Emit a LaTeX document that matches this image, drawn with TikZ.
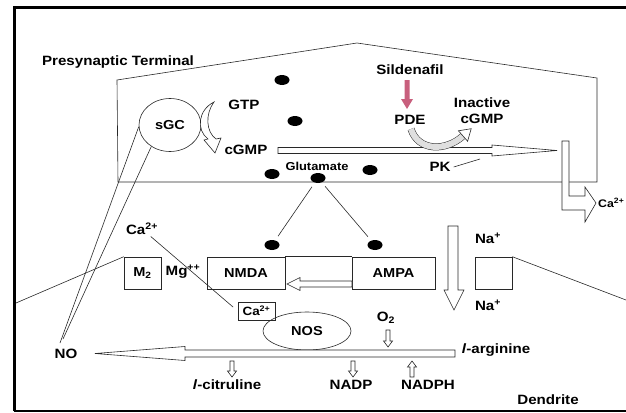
\documentclass[tikz,border=0pt]{standalone}
\usepackage{fontspec}
\setmainfont{Liberation Sans}[FakeStretch=1.12]
\usetikzlibrary{shapes.geometric}
\definecolor{pinkarrow}{RGB}{200,95,125}
\definecolor{ink}{RGB}{40,40,40}
\newcommand{\hollowdown}[3]{\draw[ink,line width=0.6pt,fill=white] (#1-2,#2) -- (#1+2,#2) -- (#1+2,#3-6) -- (#1+4.5,#3-6) -- (#1,#3) -- (#1-4.5,#3-6) -- (#1-2,#3-6) -- cycle;}
\newcommand{\hollowup}[3]{\draw[ink,line width=0.6pt,fill=white] (#1-2,#2) -- (#1+2,#2) -- (#1+2,#3+6) -- (#1+4.5,#3+6) -- (#1,#3) -- (#1-4.5,#3+6) -- (#1-2,#3+6) -- cycle;}
\begin{document}
\begin{tikzpicture}[x=1pt,y=-1pt,
  lbl/.style={font=\bfseries\fontsize{13.5}{15}\selectfont, inner sep=0pt, text=black},
  small/.style={font=\bfseries\fontsize{11.5}{13}\selectfont, inner sep=0pt, text=black},
  dot/.style={ellipse, fill=black, minimum width=15pt, minimum height=10pt, inner sep=0pt},
  boxx/.style={draw=ink, line width=0.6pt, minimum height=32pt, inner sep=0pt, font=\bfseries\fontsize{13}{15}\selectfont},
  thinl/.style={ink, line width=0.6pt}]
\useasboundingbox (0,0) rectangle (626,412);
% frame
\draw[line width=3pt] (14,411) -- (14,8) -- (626,8);
\draw[line width=2pt] (14,411) -- (626,411);
% presynaptic terminal
\draw[thinl] (117,80) -- (357,43) -- (597,78) -- (597,182) -- (118,182) -- cycle;
\node[lbl] (pre) at (118,62) {Presynaptic Terminal};
% sGC
\node[ellipse, draw=ink, line width=0.6pt, minimum width=62pt, minimum height=53pt, inner sep=0pt, font=\bfseries\fontsize{13}{15}\selectfont] (sgc) at (170,125) {sGC};
\draw[thinl, fill=white] (214,102) .. controls (198,110) and (196,130) .. (208,139) -- (204,140) -- (215,153) -- (221,138) -- (216,139) .. controls (206,132) and (205,114) .. (214,102) -- cycle;
\node[lbl] (gtp) at (244,105) {GTP};
\node[lbl] (cgmp) at (246,150) {cGMP};
% long cGMP arrow
\draw[thinl, fill=white] (278,147.5) -- (492,147.5) -- (492,145) -- (557,150.5) -- (492,156) -- (492,153.5) -- (278,153.5) -- cycle;
% Ca L-arrow
\draw[thinl, fill=white] (562,141) -- (569,141) -- (569,196) -- (585,196) -- (585,187) -- (596,203) -- (585,222) -- (585,210) -- (562,210) -- cycle;
\node[anchor=west, inner sep=0pt, font=\bfseries\fontsize{11}{13}\selectfont] (carr) at (598,203) {Ca\textsuperscript{2+}};
% sildenafil
\node[lbl] (sil) at (410,70) {Sildenafil};
\node[lbl] (pde) at (410,120) {PDE};
\fill[pinkarrow] (404.5,80) -- (409.5,80) -- (409.5,99) -- (413,99) -- (407,109) -- (401,99) -- (404.5,99) -- cycle;
\node[lbl, align=center, font=\bfseries\fontsize{13.5}{16}\selectfont] (inact) at (482,111) {Inactive\\cGMP};
\draw[ink, line width=0.5pt, double=gray!25, double distance=6pt] (411,129) .. controls (418,151) and (445,152) .. (463,136);
\draw[thinl, fill=white] (467.6,141.2) -- (471.2,128.7) -- (458.4,130.8) -- cycle;
\node[lbl] (pk) at (440,167) {PK};
\coordinate (pkend) at (480,159);
\draw[thinl] (pk.east) ++(3,0) -- (pkend);
% glutamate and vesicles
\node[dot] (v1) at (282,80) {};
\node[dot] (v2) at (295,121) {};
\node[dot] (v3) at (272,174) {};
\node[dot] (v4) at (370,170) {};
\node[dot] (g) at (318,178) {};
\node[small] (glu) at (317,166) {Glutamate};
\node[dot] (d1) at (272,245) {};
\node[dot] (d2) at (375,245) {};
\draw[thinl, shorten <=5pt, shorten >=5pt] (g) -- (d1);
\draw[thinl, shorten <=5pt, shorten >=5pt] (g) -- (d2);
% receptors
\node[boxx, minimum width=37pt] (m2) at (142.5,273) {M\textsubscript{2}};
\node[lbl] (mg) at (183,272) {Mg\textsuperscript{++}};
\node[boxx, minimum width=78pt] (nmda) at (246,273) {NMDA};
\node[boxx, minimum width=83pt] (ampa) at (393.5,273) {AMPA};
\node[boxx, minimum width=37pt] (rbox) at (493.5,273) {};
\draw[thinl] (nmda.north east) -- (ampa.north west);
\draw[thinl, fill=white] (352,281) -- (300,281) -- (300,277.5) -- (287,284) -- (300,290.5) -- (300,287) -- (352,287) -- cycle;
\coordinate (lmem) at (16,303);
\coordinate (rmem) at (626,300);
\draw[thinl] (lmem) -- (m2.north west);
\draw[thinl] (rbox.north east) -- (rmem);
% Na arrow
\node[lbl] (na1) at (488,238) {Na\textsuperscript{+}};
\node[lbl] (na2) at (488,305) {Na\textsuperscript{+}};
\draw[thinl, fill=white] (448,226) -- (458,226) -- (458,290) -- (464,290) -- (454,310) -- (444,290) -- (448,290) -- cycle;
% Ca and NOS
\node[lbl] (cal) at (142,229) {Ca\textsuperscript{2+}};
\node[draw=ink, line width=0.6pt, minimum width=37pt, minimum height=18pt, inner sep=0pt, font=\bfseries\fontsize{12}{14}\selectfont] (cab) at (256.5,311) {Ca\textsuperscript{2+}};
\draw[thinl, shorten <=2pt, shorten >=6pt] (cal) -- (cab.west);
\node[ellipse, draw=ink, line width=0.6pt, minimum width=88pt, minimum height=38pt, inner sep=0pt, font=\bfseries\fontsize{13}{15}\selectfont] (nos) at (307,331) {NOS};
\node[lbl] (o2) at (386,318) {O\textsubscript{2}};
\hollowdown{388}{330}{347}
% NO arrow
\draw[thinl, fill=white] (455,350) -- (185,350) -- (185,346.5) -- (95,353.5) -- (185,360.5) -- (185,357) -- (455,357) -- cycle;
\node[lbl] (no) at (66,354) {NO};
\coordinate (noA) at (60,343);
\coordinate (noB) at (63,339);
\draw[thinl] (sgc.183) -- (noA);
\draw[thinl] (sgc.229) -- (noB);
\node[lbl] (arg) at (496,350) {\textit{l}-arginine};
\hollowdown{232}{361}{377}
\node[lbl] (cit) at (227,385) {\textit{l}-citruline};
\hollowdown{353}{361}{377}
\node[lbl] (nadp) at (351,385) {NADP};
\hollowup{412}{377}{361}
\node[lbl] (nadph) at (428,385) {NADPH};
\node[lbl] (den) at (548,400) {Dendrite};
\end{tikzpicture}
\end{document}
